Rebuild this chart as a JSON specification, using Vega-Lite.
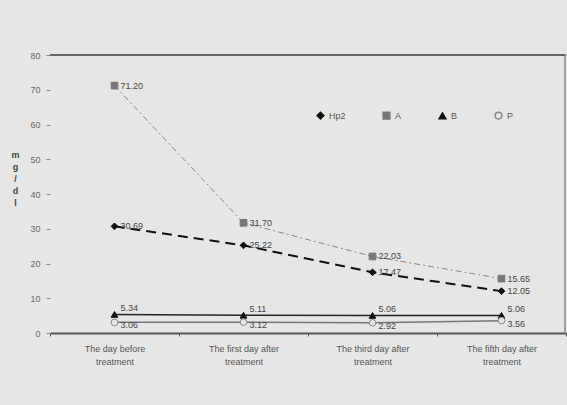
{
  "$schema": "https://vega.github.io/schema/vega-lite/v6.json",
  "width": 516,
  "height": 278,
  "padding": {"left": 50, "top": 55, "right": 1, "bottom": 72},
  "autosize": {"type": "none"},
  "background": "#e6e6e6",
  "config": {
    "view": {"stroke": null},
    "font": "Liberation Sans",
    "axis": {"labelFont": "Liberation Sans", "titleFont": "Liberation Sans"}
  },
  "datasets": {
    "d": [
      {"day": "The day before|treatment", "series": "Hp2", "value": 30.69},
      {"day": "The first day after|treatment", "series": "Hp2", "value": 25.22},
      {"day": "The third day after|treatment", "series": "Hp2", "value": 17.47},
      {"day": "The fifth day after|treatment", "series": "Hp2", "value": 12.05},
      {"day": "The day before|treatment", "series": "A", "value": 71.2},
      {"day": "The first day after|treatment", "series": "A", "value": 31.7},
      {"day": "The third day after|treatment", "series": "A", "value": 22.03},
      {"day": "The fifth day after|treatment", "series": "A", "value": 15.65},
      {"day": "The day before|treatment", "series": "B", "value": 5.34},
      {"day": "The first day after|treatment", "series": "B", "value": 5.11},
      {"day": "The third day after|treatment", "series": "B", "value": 5.06},
      {"day": "The fifth day after|treatment", "series": "B", "value": 5.06},
      {"day": "The day before|treatment", "series": "P", "value": 3.06},
      {"day": "The first day after|treatment", "series": "P", "value": 3.12},
      {"day": "The third day after|treatment", "series": "P", "value": 2.92},
      {"day": "The fifth day after|treatment", "series": "P", "value": 3.56}
    ],
    "frame": [{"top": 80, "bottom": 0}]
  },
  "data": {"name": "d"},
  "encoding": {
    "y": {"field": "value", "type": "quantitative", "scale": {"domain": [0, 80], "nice": false},
      "axis": {"title": ["m", "g", "/", "d", "l"], "titleAngle": 0, "titleFontSize": 9, "titleColor": "#444",
        "titleLineHeight": 12, "titleX": -35, "titleY": 95, "titleAlign": "center", "titleBaseline": "top",
        "values": [0, 10, 20, 30, 40, 50, 60, 70, 80], "labelOverlap": false, "labelFontSize": 9, "labelColor": "#666",
        "labelPadding": 6, "domain": false, "tickColor": "#888", "tickSize": 4, "grid": false}}
  },
  "layer": [
    {
      "data": {"name": "frame"},
      "mark": {"type": "rule", "color": "#666", "strokeWidth": 2},
      "encoding": {"y": {"field": "top", "type": "quantitative"}}
    },
    {
      "data": {"name": "frame"},
      "mark": {"type": "rule", "color": "#888", "strokeWidth": 1.5},
      "encoding": {
        "y": {"field": "bottom", "type": "quantitative"},
        "y2": {"field": "top"},
        "x": {"value": 515}
      }
    },
    {
      "transform": [{"filter": "datum.series === 'A'"}],
      "mark": {"type": "line", "color": "#888", "strokeWidth": 1, "strokeDash": [6, 3, 2, 3]},
      "encoding": {
        "x": {
          "field": "day", "type": "nominal", "sort": null,
          "scale": {"type": "band", "paddingInner": 0, "paddingOuter": 0},
          "axis": {
            "title": null, "labelAngle": 0, "labelExpr": "isString(datum.value) ? split(datum.value, '|') : ''",
            "labelFontSize": 9, "labelColor": "#555", "labelLineHeight": 13, "labelPadding": 8,
            "domainColor": "#555", "domainWidth": 2, "tickBand": "extent",
            "tickColor": "#555", "tickSize": 3, "grid": false
          }
        }
      }
    },
    {
      "transform": [{"filter": "datum.series === 'Hp2'"}],
      "mark": {"type": "line", "color": "#111", "strokeWidth": 2, "strokeDash": [10, 6]},
      "encoding": {"x": {"field": "day", "type": "nominal", "sort": null}}
    },
    {
      "transform": [{"filter": "datum.series === 'B'"}],
      "mark": {"type": "line", "color": "#222", "strokeWidth": 1.5},
      "encoding": {"x": {"field": "day", "type": "nominal", "sort": null}}
    },
    {
      "transform": [{"filter": "datum.series === 'P'"}],
      "mark": {"type": "line", "color": "#777", "strokeWidth": 1.5},
      "encoding": {"x": {"field": "day", "type": "nominal", "sort": null}}
    },
    {
      "mark": {"type": "point", "size": 45, "opacity": 1, "strokeWidth": 1},
      "encoding": {
        "x": {"field": "day", "type": "nominal", "sort": null},
        "shape": {"field": "series", "type": "nominal",
          "scale": {"domain": ["Hp2", "A", "B", "P"], "range": ["diamond", "square", "triangle-up", "circle"]},
          "legend": {"title": null, "orient": "none", "legendX": 266, "legendY": 56, "direction": "horizontal",
            "labelFontSize": 9, "labelColor": "#555", "columnPadding": 34, "symbolSize": 45, "labelOffset": 4}},
        "fill": {"field": "series", "type": "nominal",
          "scale": {"domain": ["Hp2", "A", "B", "P"], "range": ["#111", "#777", "#111", "#e6e6e6"]}},
        "stroke": {"field": "series", "type": "nominal",
          "scale": {"domain": ["Hp2", "A", "B", "P"], "range": ["#111", "#777", "#111", "#888"]}}
      }
    },
    {
      "transform": [{"filter": "datum.series === 'A' || datum.series === 'Hp2'"}],
      "mark": {"type": "text", "align": "left", "baseline": "middle", "dx": 6, "fontSize": 9, "color": "#444"},
      "encoding": {
        "x": {"field": "day", "type": "nominal", "sort": null},
        "text": {"field": "value", "type": "quantitative", "format": ".2f"}
      }
    },
    {
      "transform": [{"filter": "datum.series === 'B'"}],
      "mark": {"type": "text", "align": "left", "baseline": "bottom", "dx": 6, "dy": -1, "fontSize": 9, "color": "#444"},
      "encoding": {
        "x": {"field": "day", "type": "nominal", "sort": null},
        "text": {"field": "value", "type": "quantitative", "format": ".2f"}
      }
    },
    {
      "transform": [{"filter": "datum.series === 'P'"}],
      "mark": {"type": "text", "align": "left", "baseline": "top", "dx": 6, "dy": -1, "fontSize": 9, "color": "#444"},
      "encoding": {
        "x": {"field": "day", "type": "nominal", "sort": null},
        "text": {"field": "value", "type": "quantitative", "format": ".2f"}
      }
    }
  ]
}
